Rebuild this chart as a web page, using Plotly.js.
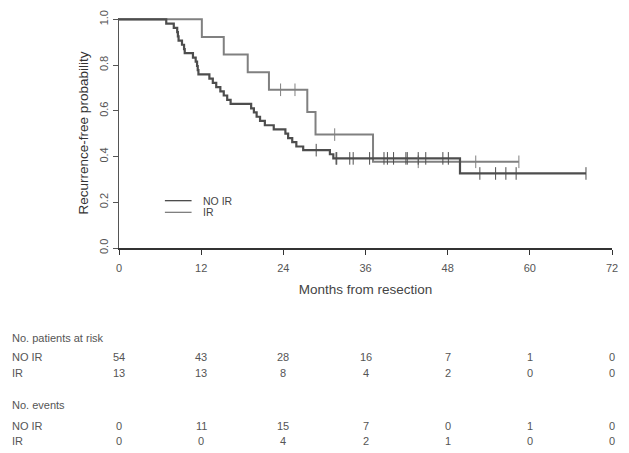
<!DOCTYPE html>
<html>
<head>
<meta charset="utf-8">
<script src="https://cdn.plot.ly/plotly-3.0.1.min.js"></script>
<style>html,body{margin:0;padding:0;background:#fff;}#chart{width:629px;height:453px;}</style>
</head>
<body>
<div id="chart"></div>
<script>
// Kaplan-Meier step curves
const noirTime = [0, 6.9, 8.0, 8.5, 8.6, 8.7, 9.2, 9.5, 9.6, 10.8, 11.2, 11.4, 11.5, 11.6, 13.2, 13.7, 14.2, 14.8, 15.3, 15.8, 16.3, 19.3, 19.7, 20.1, 20.6, 21.3, 22.6, 24.3, 24.7, 25.3, 25.9, 26.9, 30.8, 31.3, 49.8, 68.2];
const noirSurv = [1, 0.981, 0.963, 0.944, 0.926, 0.907, 0.889, 0.870, 0.852, 0.833, 0.815, 0.796, 0.778, 0.759, 0.741, 0.722, 0.704, 0.685, 0.667, 0.648, 0.630, 0.611, 0.593, 0.574, 0.556, 0.537, 0.519, 0.500, 0.481, 0.463, 0.444, 0.428, 0.410, 0.392, 0.326, 0.326];
const irTime = [0, 12.1, 15.3, 18.8, 21.9, 27.5, 28.7, 37.1, 58.4];
const irSurv = [1, 0.923, 0.846, 0.769, 0.692, 0.595, 0.496, 0.377, 0.377];

// censoring marks
const noirCensTime = [28.8, 31.7, 31.8, 33.7, 34.2, 36.6, 38.7, 39.2, 40.1, 41.9, 42.1, 43.7, 44.8, 47.3, 48.1, 52.7, 55.0, 56.5, 58.0, 68.2];
const noirCensSurv = [0.428, 0.392, 0.392, 0.392, 0.392, 0.392, 0.392, 0.392, 0.392, 0.392, 0.392, 0.392, 0.392, 0.392, 0.392, 0.326, 0.326, 0.326, 0.326, 0.326];
const irCensTime = [23.6, 25.7, 31.5, 43.7, 52.1, 58.4];
const irCensSurv = [0.692, 0.692, 0.496, 0.377, 0.377, 0.377];

// risk table
const tableTimes = [0, 12, 24, 36, 48, 60, 72];
const riskNoIR = [54, 43, 28, 16, 7, 1, 0];
const riskIR = [13, 13, 8, 4, 2, 0, 0];
const eventsNoIR = [0, 11, 15, 7, 0, 1, 0];
const eventsIR = [0, 0, 4, 2, 1, 0, 0];
const groupNames = ['NO IR', 'IR'];

const cNo = '#4d4d4d', cIr = '#808080';
const txt = '#555555';
const F = 'Liberation Sans, Arial, sans-serif';

const traces = [
  {x: irTime, y: irSurv, mode: 'lines', line: {shape: 'hv', color: cIr, width: 2}, showlegend: false, hoverinfo: 'skip'},
  {x: noirTime, y: noirSurv, mode: 'lines', line: {shape: 'hv', color: cNo, width: 2.2}, showlegend: false, hoverinfo: 'skip'},
  {x: irCensTime, y: irCensSurv, mode: 'markers', marker: {symbol: 'line-ns', size: 9, line: {width: 1, color: cIr}}, showlegend: false, hoverinfo: 'skip'},
  {x: noirCensTime, y: noirCensSurv, mode: 'markers', marker: {symbol: 'line-ns', size: 9, line: {width: 1, color: cNo}}, showlegend: false, hoverinfo: 'skip'}
];

const H = 230, B = 248;
function py(p) { return (B - p) / H; }

const ann = [];
function rowLabel(text, p) {
  ann.push({xref: 'paper', yref: 'paper', x: (10 - 119) / 493, y: py(p), xanchor: 'left', yanchor: 'middle', text: text, showarrow: false, font: {family: F, size: 11, color: txt}});
}
function rowVals(vals, p) {
  vals.forEach((v, i) => ann.push({xref: 'x', yref: 'paper', x: tableTimes[i], y: py(p), xanchor: 'center', yanchor: 'middle', text: String(v), showarrow: false, font: {family: F, size: 11, color: txt}}));
}
rowLabel('No. patients at risk', 338);
rowLabel(groupNames[0], 357); rowVals(riskNoIR, 357);
rowLabel(groupNames[1], 373); rowVals(riskIR, 373);
rowLabel('No. events', 405);
rowLabel(groupNames[0], 426); rowVals(eventsNoIR, 426);
rowLabel(groupNames[1], 441); rowVals(eventsIR, 441);

// legend
ann.push({xref: 'x', yref: 'y', x: 12.0, y: 0.207, xanchor: 'left', yanchor: 'middle', text: groupNames[0], showarrow: false, font: {family: F, size: 10.5, color: '#444'}});
ann.push({xref: 'x', yref: 'y', x: 12.0, y: 0.156, xanchor: 'left', yanchor: 'middle', text: groupNames[1], showarrow: false, font: {family: F, size: 10.5, color: '#444'}});
const shapes = [
  {type: 'line', xref: 'x', yref: 'y', x0: 6.7, x1: 10.6, y0: 0.207, y1: 0.207, line: {color: cNo, width: 1.3}},
  {type: 'line', xref: 'x', yref: 'y', x0: 6.7, x1: 10.6, y0: 0.156, y1: 0.156, line: {color: cIr, width: 1.3}}
];

const layout = {
  width: 629, height: 453,
  margin: {l: 119, r: 17, t: 18, b: 205, pad: 0},
  paper_bgcolor: '#fff', plot_bgcolor: '#fff',
  font: {family: F, color: txt},
  xaxis: {
    range: [0, 72], tickvals: tableTimes, ticktext: tableTimes.map(String),
    showgrid: false, zeroline: false, showline: true, linecolor: '#333', linewidth: 1.5,
    ticks: 'outside', ticklen: 5, tickcolor: '#333', tickwidth: 1,
    ticklabelstandoff: 4,
    tickfont: {family: F, size: 11, color: txt},
    title: {text: 'Months from resection', font: {family: F, size: 13.5, color: '#444'}, standoff: 12},
    automargin: false, fixedrange: true
  },
  yaxis: {
    range: [0, 1.006], tickvals: [0, 0.2, 0.4, 0.6, 0.8, 1.0], ticktext: ['0.0', '0.2', '0.4', '0.6', '0.8', '1.0'],
    tickangle: -90,
    showgrid: false, zeroline: false, showline: true, linecolor: '#555', linewidth: 1.2,
    ticks: 'outside', ticklen: 5, tickcolor: '#555', tickwidth: 1,
    tickfont: {family: F, size: 11, color: txt},
    title: {text: 'Recurrence-free probability', font: {family: F, size: 13.5, color: '#333'}, standoff: 6},
    automargin: false, fixedrange: true
  },
  annotations: ann,
  shapes: shapes
};

Plotly.newPlot('chart', traces, layout, {displayModeBar: false, staticPlot: true});
</script>
</body>
</html>
